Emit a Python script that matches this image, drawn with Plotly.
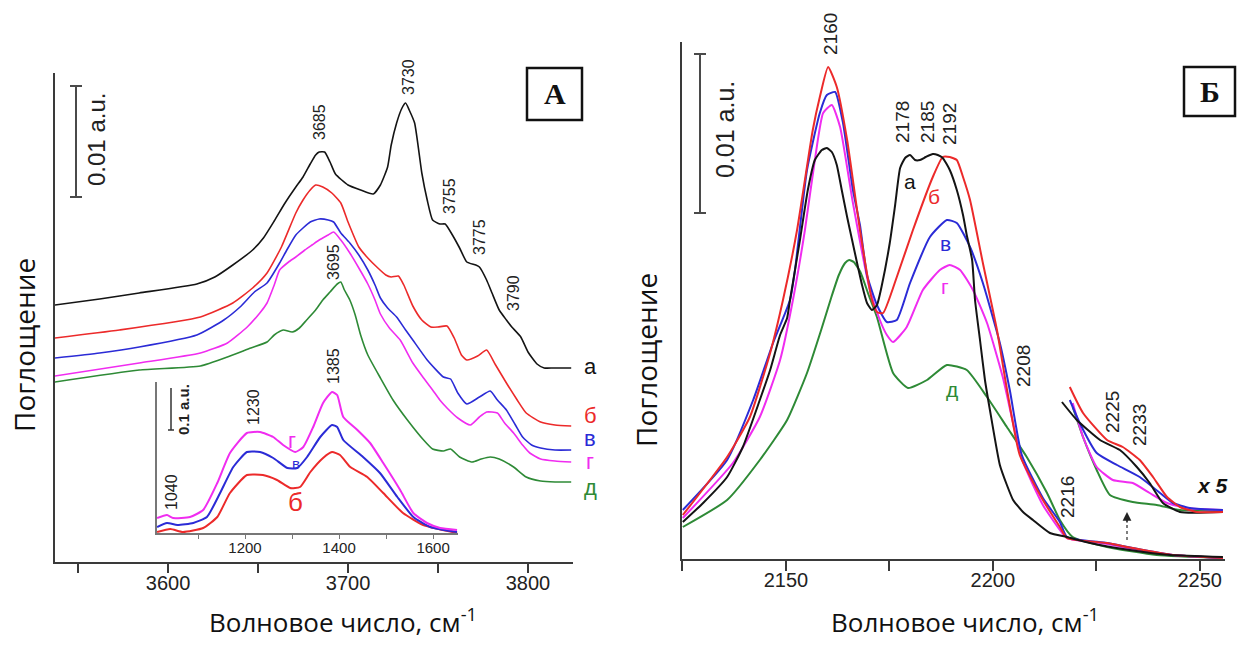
import plotly.graph_objects as go

W, H = 1238, 645
def px(x): return x / W
def py(y): return 1 - y / H

BLACK = "#141414"; RED = "#ec2a2a"; BLUE = "#2b2bd6"; MAGENTA = "#f02cf0"; GREEN = "#2e8a36"
AXC = "#3a3a3a"

# ---------------- Panel A (OH region), absorbance in arbitrary units (0.01 a.u. = 111) --------
A_wn_a = [3537,3562,3584,3616,3626,3636,3647,3653,3659,3665,3671,3675,3679,3682,3684,3687,3690,3693,3700,3707,
          3714,3718,3722,3724,3727,3730,3732,3734,3737,3741,3744,3747,3751,3754,3758,3762,3766,3771,3773,3777,
          3780,3784,3788,3791,3796,3800,3805,3809,3814,3819,3824]
A_abs_a = [257,263,269,278,285,297,312,324,341,359,375,385,398,407,410,410,400,388,377,372,
           368,377,395,417,439,454,459,452,439,389,362,342,338,338,327,314,300,297,295,282,
           269,252,242,235,225,210,198,194,194,194,194]

A_wn_b = [3537,3573,3618,3636,3647,3655,3663,3671,3675,3679,3682,3686,3691,3696,3700,3706,3711,3716,3721,3724,
          3728,3731,3736,3741,3746,3750,3755,3759,3763,3766,3772,3777,3782,3788,3794,3799,3807,3815,3824]
A_abs_b = [224,232,245,259,274,289,315,349,362,372,377,375,369,359,340,315,304,295,287,285,
           286,277,256,242,235,235,236,224,207,202,206,212,197,179,162,149,140,137,136]

A_wn_c = [3537,3562,3584,3616,3631,3640,3648,3655,3662,3666,3671,3675,3679,3684,3689,3692,3696,3701,3706,3711,
          3715,3718,3722,3727,3732,3736,3744,3753,3757,3761,3766,3773,3779,3783,3788,3793,3797,3802,3807,3815,3824]
A_abs_c = [204,209,215,227,242,255,270,279,299,312,327,334,340,343,342,340,329,319,307,292,
           277,264,254,245,232,222,202,185,183,169,158,165,171,162,152,137,125,117,114,112,112]

A_wn_d = [3537,3584,3618,3633,3644,3651,3655,3659,3662,3667,3671,3676,3680,3684,3689,3692,3696,3701,3706,3711,
          3715,3718,3723,3729,3736,3742,3747,3751,3755,3761,3768,3773,3777,3783,3787,3792,3797,3801,3807,3815,3824]
A_abs_d = [186,199,209,219,235,249,259,277,292,300,305,312,317,322,327,330,322,309,294,278,
           262,248,234,222,199,184,172,162,154,144,137,145,150,149,139,129,117,109,103,101,100]

A_wn_e = [3537,3584,3618,3633,3646,3655,3659,3664,3669,3673,3677,3682,3686,3690,3694,3696,3698,3701,3704,3707,
          3711,3718,3725,3733,3742,3747,3753,3757,3762,3769,3774,3779,3784,3792,3799,3807,3815,3824]
A_abs_e = [180,192,196,205,214,220,227,232,230,234,242,252,262,270,278,280,272,262,247,227,
           207,184,162,142,122,113,111,113,105,100,103,105,103,95,85,81,80,80]

A_TICKS = [3550, 3600, 3650, 3700, 3750, 3800]
A_TICKTEXT = ["", "3600", "", "3700", "", "3800"]

# ---------------- Inset (carbonate/nitrate region) ----------------
IN_wn_b = [1013,1041,1068,1111,1141,1168,1204,1238,1268,1296,1317,1339,1366,1385,1402,1424,1460,1494,1536,1579,1651]
IN_abs_b = [1,4,1,5,16,40,58,58,53,45,46,61,75,81,78,66,56,40,20,8,0]
IN_wn_c = [1013,1034,1056,1090,1119,1147,1175,1204,1232,1260,1290,1311,1332,1360,1385,1396,1409,1451,1487,1524,1558,1594,1651]
IN_abs_c = [6,10,8,10,16,40,66,81,81,75,65,65,76,96,108,106,93,76,60,36,16,6,1]
IN_wn_d = [1013,1034,1047,1083,1111,1141,1168,1204,1232,1260,1281,1307,1324,1345,1366,1385,1396,1409,1439,1466,
           1494,1530,1558,1587,1615,1651]
IN_abs_d = [15,18,15,16,23,50,80,100,101,96,88,81,86,106,130,141,138,116,103,90,70,43,20,10,5,3]
IN_TICKS = [1100, 1200, 1300, 1400, 1500, 1600]
IN_TICKTEXT = ["", "1200", "", "1400", "", "1600"]

# ---------------- Panel B (CO adsorption) ----------------
B_wn_a = [2125.1,2130.0,2135.8,2139.6,2143.7,2146.2,2148.6,2150.3,2151.0,2153.4,2155.3,2157.0,2158.7,2159.9,2161.1,
          2162.3,2163.5,2164.8,2166.0,2167.2,2168.4,2169.6,2170.8,2172.0,2173.2,2175.1,2176.4,2177.6,2178.8,2180.0,
          2181.2,2182.4,2183.8,2185.5,2186.7,2187.9,2189.6,2191.3,2192.8,2193.7,2195.0,2195.7,2196.9,2198.1,2199.3,
          2201.7,2203.4,2204.9,2207.3,2209.7,2213.8,2217.9,2223.5,2233.1,2242.8,2255.6]
B_abs_a = [37,56,82,112,159,189,224,241,259,319,369,399,409,411,407,
           394,369,342,319,296,274,256,249,254,274,316,354,391,401,404,
           399,399,402,405,404,401,389,369,344,324,299,259,219,179,149,
           94,74,59,47,39,26,22,16,9,4,2]

B_wn_b = [2125.1,2135.8,2141.3,2146.2,2149.3,2152.7,2156.5,2158.2,2160.2,2162.3,2164.8,2167.9,2170.8,2172.0,2173.5,
          2176.8,2180.7,2185.5,2187.9,2189.6,2191.3,2192.8,2194.5,2197.6,2201.0,2203.4,2206.5,2212.1,2216.2,2217.9,
          2227.6,2233.8,2243.5,2255.6]
B_abs_b = [44,102,142,206,259,329,429,462,492,472,419,329,259,247,246,
           282,329,382,402,402,399,382,359,296,229,170,104,59,32,21,
           16,11,4,1]

B_wn_c = [2125.1,2135.8,2142.1,2146.9,2151.0,2152.2,2155.1,2158.2,2159.9,2161.9,2163.8,2166.2,2167.9,2169.6,2172.0,
          2174.4,2176.8,2180.0,2184.8,2188.9,2191.3,2194.5,2197.6,2201.7,2204.1,2207.0,2212.1,2216.2,2217.9,2227.6,
          2233.8,2243.5,2255.6]
B_abs_c = [49,99,159,216,259,289,389,446,464,467,436,369,334,284,254,
           237,239,276,322,339,336,312,276,216,169,104,61,37,22,16,
           11,4,1]

B_wn_d = [2125.1,2137.2,2143.7,2148.6,2151.7,2154.6,2157.0,2159.0,2161.1,2163.1,2166.2,2170.3,2172.7,2174.4,2175.9,
          2179.2,2183.1,2187.2,2189.6,2192.1,2195.2,2198.6,2202.4,2207.0,2212.1,2216.2,2217.9,2227.6,2233.8,2243.5,2255.6]
B_abs_d = [41,96,142,199,259,329,399,446,454,432,356,269,239,224,217,
           232,269,289,294,289,269,236,182,100,54,29,21,15,10,4,1]

B_wn_e = [2125.1,2135.8,2143.7,2150.3,2155.1,2158.6,2161.0,2162.8,2164.3,2165.3,2166.4,2168.0,2170.0,2172.0,2175.9,
          2179.5,2184.1,2188.9,2193.7,2198.6,2203.4,2208.2,2213.1,2216.2,2219.3,2227.6,2239.6,2255.6]
B_abs_e = [32,59,99,139,186,230,262,284,296,299,297,287,264,242,186,
           171,179,194,189,162,132,102,66,39,22,12,4,1]

# x5 magnified high-frequency part (offset)
X5_wn_a = [2216.7,2220.3,2225.9,2230.7,2234.8,2237.9,2241.1,2245.2,2255.6]
X5_abs_a = [157,139,119,109,92,76,56,47,47]
X5_wn_b = [2218.6,2221.8,2227.6,2231.4,2235.5,2238.7,2242.1,2245.2,2249.3,2255.6]
X5_abs_b = [172,146,119,112,99,82,62,52,47,47]
X5_wn_c = [2218.6,2221.0,2225.1,2230.0,2235.5,2240.4,2243.5,2247.6,2255.6]
X5_abs_c = [159,136,106,94,82,66,56,51,49]
X5_wn_d = [2219.3,2221.8,2225.1,2229.0,2233.8,2237.9,2242.1,2246.9,2255.6]
X5_abs_d = [156,122,92,79,76,66,56,51,49]
X5_wn_e = [2219.3,2221.8,2225.1,2228.3,2233.8,2239.6,2245.2,2255.6]
X5_abs_e = [152,122,89,64,57,54,49,49]

B_TICKS = [2125, 2150, 2175, 2200, 2225, 2250]
B_TICKTEXT = ["", "2150", "", "2200", "", "2250"]

fig = go.Figure()

def add(xs, ys, color, xa, ya, width):
    fig.add_trace(go.Scatter(x=xs, y=ys, mode="lines",
                             line=dict(color=color, width=width, shape="spline", smoothing=0.5),
                             xaxis=xa, yaxis=ya, hoverinfo="skip", showlegend=False))

for xs, ys, c in [(A_wn_e, A_abs_e, GREEN), (A_wn_d, A_abs_d, MAGENTA), (A_wn_c, A_abs_c, BLUE),
                  (A_wn_b, A_abs_b, RED), (A_wn_a, A_abs_a, BLACK)]:
    add(xs, ys, c, "x", "y", 1.6)
for xs, ys, c in [(IN_wn_b, IN_abs_b, RED), (IN_wn_c, IN_abs_c, BLUE), (IN_wn_d, IN_abs_d, MAGENTA)]:
    add(xs, ys, c, "x2", "y2", 2)
for xs, ys, c in [(B_wn_e, B_abs_e, GREEN), (B_wn_d, B_abs_d, MAGENTA), (B_wn_c, B_abs_c, BLUE),
                  (B_wn_b, B_abs_b, RED), (B_wn_a, B_abs_a, BLACK),
                  (X5_wn_e, X5_abs_e, GREEN), (X5_wn_d, X5_abs_d, MAGENTA), (X5_wn_c, X5_abs_c, BLUE),
                  (X5_wn_a, X5_abs_a, BLACK), (X5_wn_b, X5_abs_b, RED)]:
    add(xs, ys, c, "x3", "y3", 2)

common = dict(showgrid=False, zeroline=False, showline=True, linecolor=AXC, linewidth=2,
              fixedrange=True, tickcolor=AXC)
tickfont = dict(family="Liberation Sans, Arial, sans-serif", size=20, color="#222")

fig.update_layout(
    width=W, height=H, margin=dict(l=0, r=0, t=0, b=0),
    paper_bgcolor="white", plot_bgcolor="rgba(0,0,0,0)", showlegend=False,
    xaxis={**common, "domain": [px(55), px(573)], "range": [3537.2, 3825], "anchor": "y",
           "tickmode": "array", "tickvals": A_TICKS, "ticktext": A_TICKTEXT, "ticks": "outside",
           "ticklen": 9, "tickwidth": 1.5, "tickfont": tickfont, "ticklabelstandoff": -7},
    yaxis={**common, "domain": [py(562), py(73)], "range": [0, 489], "anchor": "x",
           "showticklabels": False, "ticks": ""},
    xaxis2={**common, "linecolor": "#777", "tickcolor": "#777", "linewidth": 1.5,
            "domain": [px(157), px(458)], "range": [1012.8, 1653], "anchor": "y2",
            "tickmode": "array", "tickvals": IN_TICKS, "ticktext": IN_TICKTEXT, "ticks": "outside",
            "ticklen": 4, "tickwidth": 1, "ticklabelstandoff": -4,
            "tickfont": dict(family="Liberation Sans, Arial", size=15, color="#222")},
    yaxis2={**common, "linecolor": "#777", "linewidth": 1.5,
            "domain": [py(533), py(382)], "range": [0, 151], "anchor": "x2",
            "showticklabels": False, "ticks": ""},
    xaxis3={**common, "domain": [px(682), px(1225)], "range": [2124.9, 2256.1], "anchor": "y3",
            "tickmode": "array", "tickvals": B_TICKS, "ticktext": B_TICKTEXT, "ticks": "outside",
            "ticklen": 10, "tickwidth": 1.5, "tickfont": tickfont, "ticklabelstandoff": -8},
    yaxis3={**common, "domain": [py(559), py(42)], "range": [0, 517], "anchor": "x3",
            "showticklabels": False, "ticks": ""},
)

shapes = []
def line(x0, y0, x1, y1, color="#4a4a4a", width=2, dash="solid"):
    shapes.append(dict(type="line", xref="paper", yref="paper", x0=px(x0), y0=py(y0), x1=px(x1), y1=py(y1),
                       line=dict(color=color, width=width, dash=dash)))
# scale bars
line(76, 86, 76, 197); line(70, 86, 82, 86); line(70, 197, 82, 197)
line(700, 54, 700, 213); line(694, 54, 706, 54); line(694, 213, 706, 213)
line(171, 388, 171, 430, color="#333", width=1.5); line(168, 430, 174, 430, color="#333", width=1.5)
# dotted arrow shaft
line(1127, 540, 1127, 522, color="#555", width=1.5, dash="dot")
# boxes
for (x0, y0, x1, y1) in [(527, 68, 582, 120), (1184, 67, 1235, 116)]:
    shapes.append(dict(type="rect", xref="paper", yref="paper", x0=px(x0), y0=py(y0), x1=px(x1), y1=py(y1),
                       line=dict(color="#111", width=2.5), fillcolor="rgba(0,0,0,0)"))
fig.update_layout(shapes=shapes)

anns = []
def ann(text, x, y, size, color="#222", angle=0, family="Liberation Sans, Arial, sans-serif", **kw):
    anns.append(dict(text=text, x=px(x), y=py(y), xref="paper", yref="paper", showarrow=False,
                     xanchor="center", yanchor="middle", textangle=angle,
                     font=dict(family=family, size=size, color=color), **kw))

# Panel A peak labels
for t, x, y in [("3685", 319, 122), ("3730", 408, 77), ("3755", 449, 196), ("3775", 479, 237),
                ("3790", 513, 293), ("3695", 333, 262)]:
    ann(t, x, y, 16, angle=-90)
for t, y, c in [("а", 366, BLACK), ("б", 415, RED), ("в", 438, BLUE), ("г", 461, MAGENTA), ("д", 487, GREEN)]:
    ann(t, 590, y, 22, color=c)
# inset labels
ann("1230", 253, 407, 16, angle=-90)
ann("1385", 333, 366, 16, angle=-90)
ann("1040", 171, 492, 16, angle=-90)
ann("г", 292, 441, 22, color=MAGENTA)
ann("в", 296, 463, 15, color=BLUE)
ann("б", 295, 502, 26, color=RED)
ann("<b>0.1 a.u.</b>", 183, 410, 15, angle=-90)
# scale labels
ann("0.01 a.u.", 97, 140, 24, angle=-90)
ann("0.01 a.u.", 725, 130, 25, angle=-90)
# panel B labels
for t, x, y in [("2160", 830, 34), ("2178", 902, 122), ("2185", 927, 122), ("2192", 950, 124),
                ("2208", 1023, 366), ("2216", 1068, 497), ("2225", 1112, 412), ("2233", 1140, 425)]:
    ann(t, x, y, 19, angle=-90)
for t, x, y, c in [("а", 910, 182, BLACK), ("б", 934, 196, RED), ("в", 945, 243, BLUE),
                   ("г", 945, 286, MAGENTA), ("д", 952, 389, GREEN)]:
    ann(t, x, y, 21, color=c)
ann("<b><i>x 5</i></b>", 1212, 485, 21, color="#111")
# panel letters
ann("<b>А</b>", 554.5, 94, 30, color="#111", family="Liberation Serif, Times New Roman, serif")
ann("<b>Б</b>", 1209.5, 92, 30, color="#111", family="Liberation Serif, Times New Roman, serif")
# axis titles
TF = "Open Sans, Noto Sans, sans-serif"
ann("Поглощение", 24, 345, 28, color="#111", angle=-90, family=TF)
ann("Поглощение", 646, 360, 28, color="#111", angle=-90, family=TF)
ann("Волновое число, см<sup>-1</sup>", 343, 621, 26, color="#111", family=TF)
ann("Волновое число, см<sup>-1</sup>", 965, 621, 26, color="#111", family=TF)
# arrowhead of dotted arrow
anns.append(dict(text="", x=px(1127), y=py(512), xref="paper", yref="paper", showarrow=True,
                 ax=0, ay=12, arrowhead=2, arrowsize=1.1, arrowwidth=1.6, arrowcolor="#222"))
fig.update_layout(annotations=anns)

fig.write_html("out.html")
